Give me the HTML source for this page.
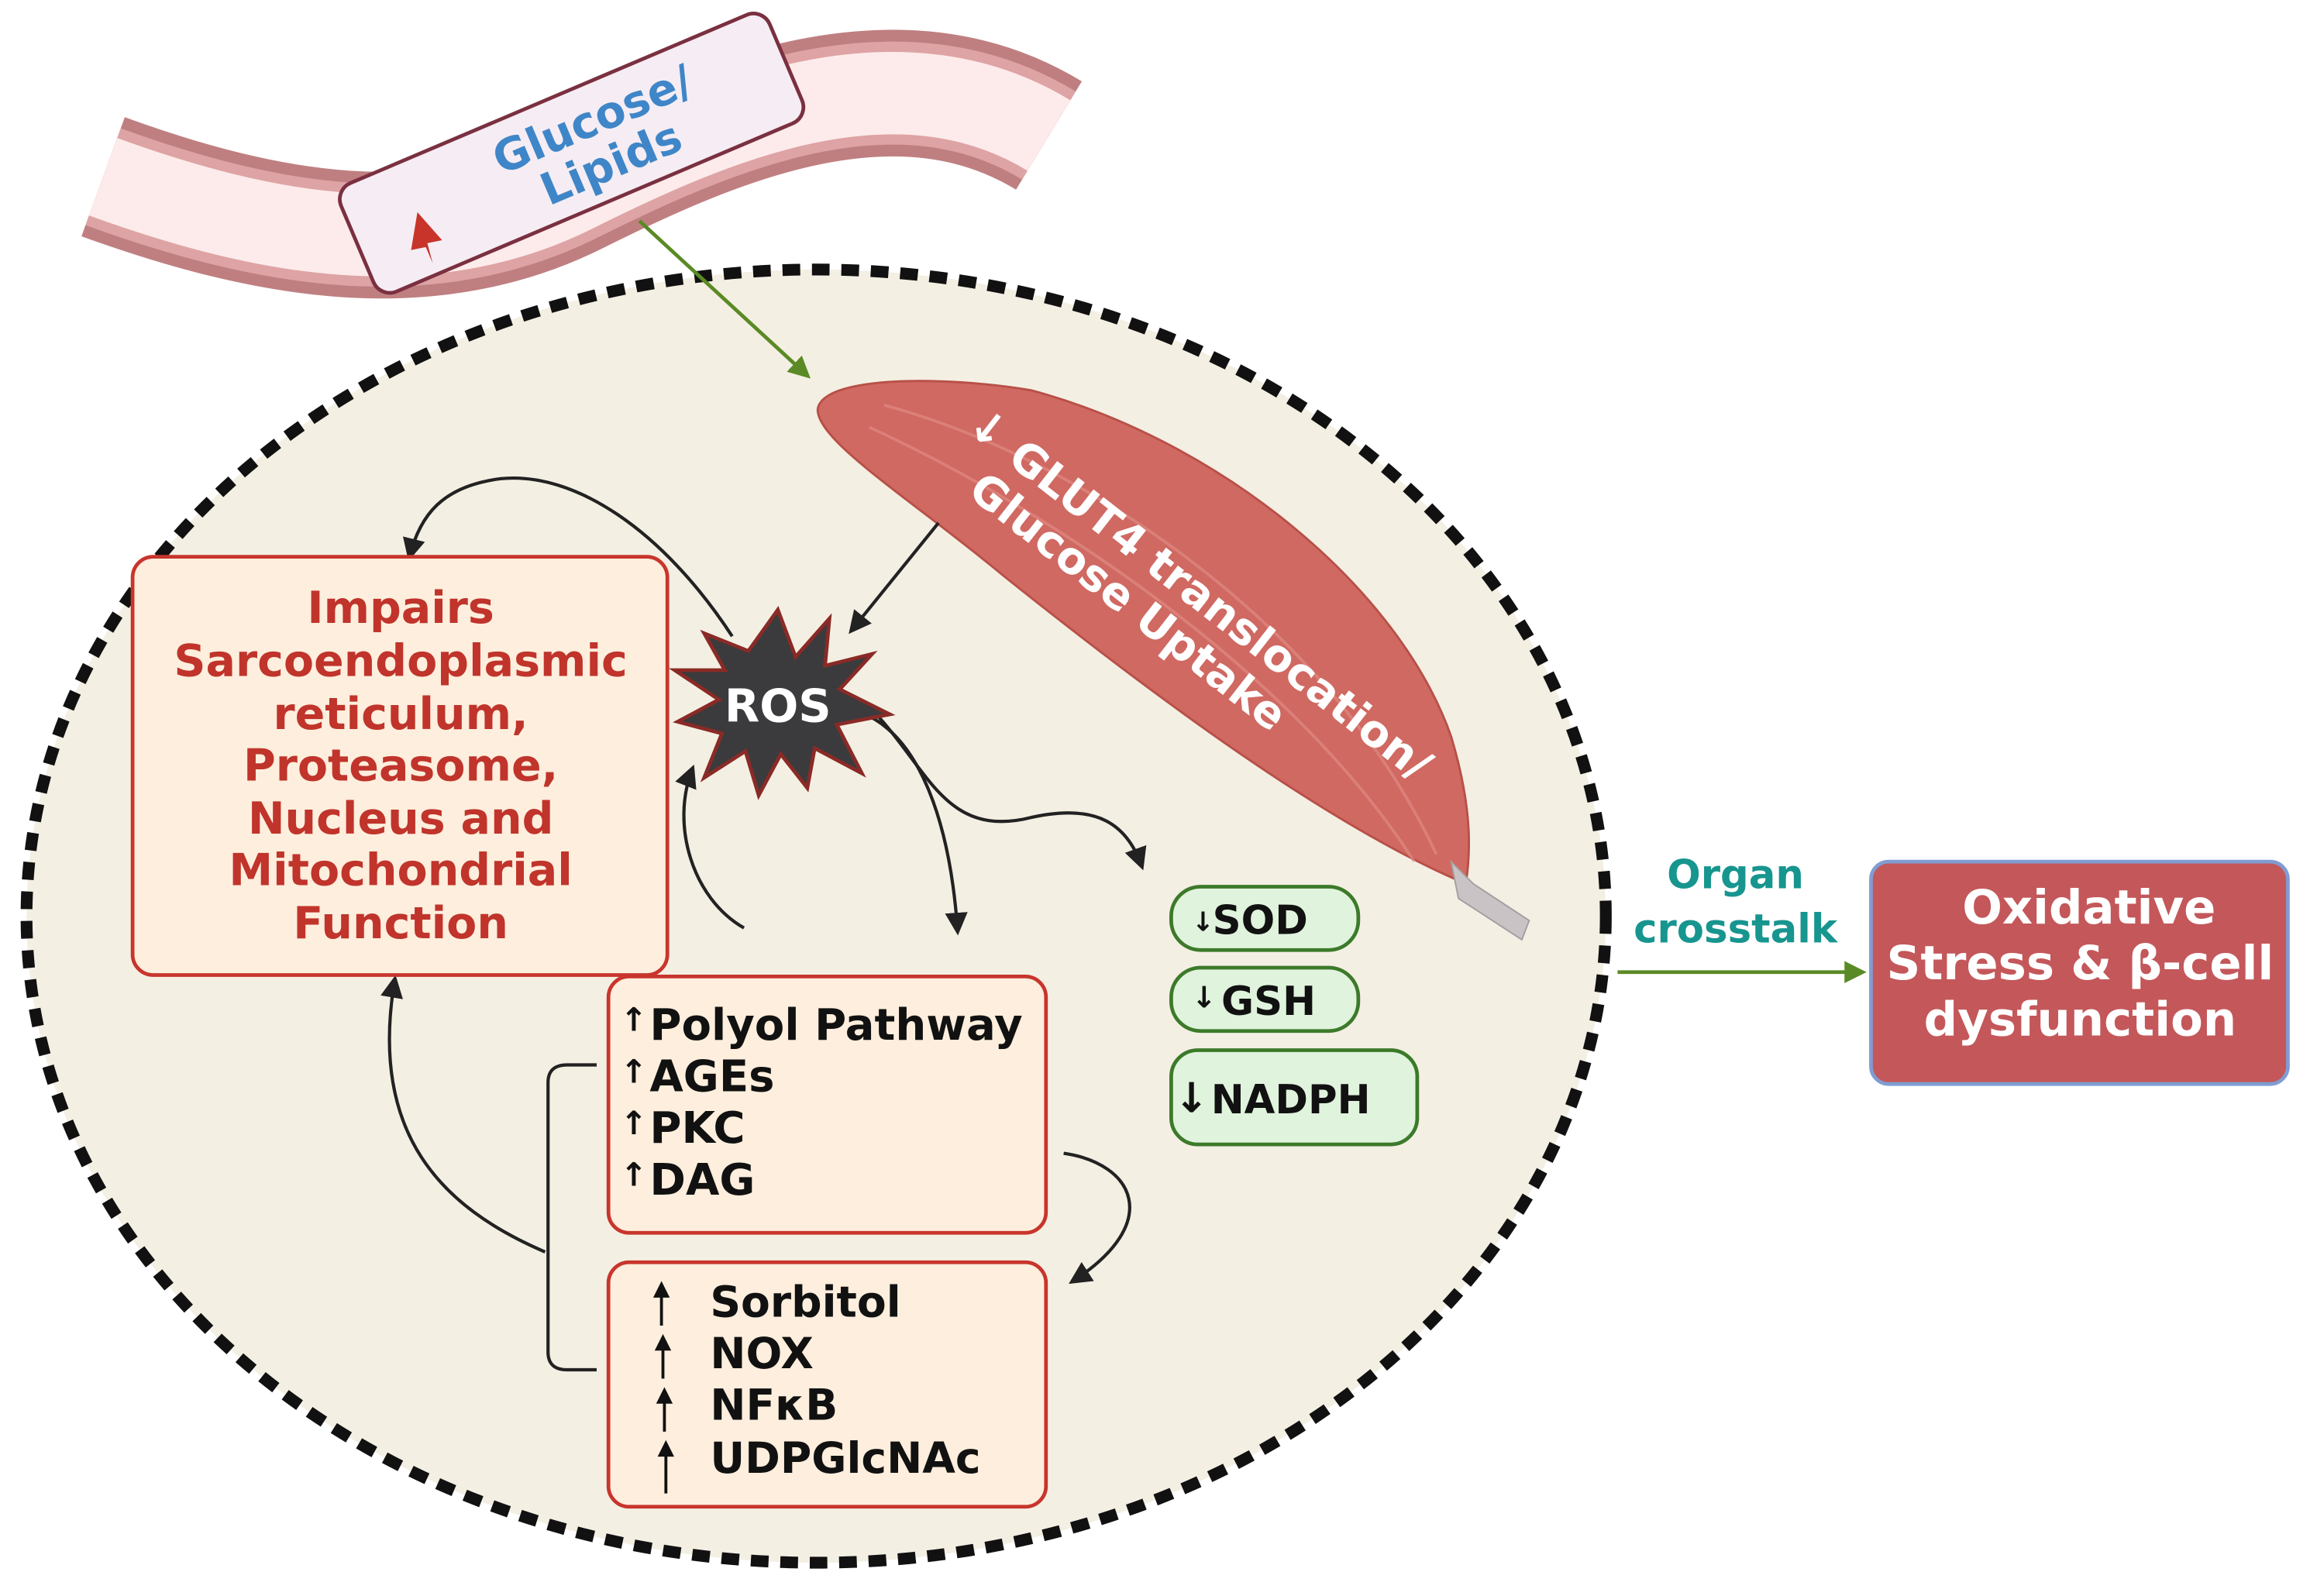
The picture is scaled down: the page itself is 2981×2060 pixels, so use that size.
<!DOCTYPE html>
<html><head><meta charset="utf-8"><style>
html,body{margin:0;padding:0;background:#fff;}
svg{display:block;}
text{font-family:"DejaVu Sans","Liberation Sans",sans-serif;font-weight:bold;}
</style></head><body>
<svg width="2981" height="2060" viewBox="0 0 1568 1083.6" preserveAspectRatio="none" xmlns="http://www.w3.org/2000/svg">
<defs>
<marker id="ab" viewBox="0 0 10 10" refX="8" refY="5" markerWidth="7" markerHeight="7" orient="auto"><path d="M0,0 L10,5 L0,10 z" fill="#222"/></marker>
<marker id="ag" viewBox="0 0 10 10" refX="8" refY="5" markerWidth="6" markerHeight="6" orient="auto"><path d="M0,0 L10,5 L0,10 z" fill="#5a8a25"/></marker>
</defs>
<!-- vessel -->
<g fill="none" stroke-linecap="butt">
<path d="M70,120 C180,160 290,180 390,130 S610,30 712,92" stroke="#bf7f80" stroke-width="86"/>
<path d="M70,120 C180,160 290,180 390,130 S610,30 712,92" stroke="#dea3a4" stroke-width="70"/>
<path d="M70,120 C180,160 290,180 390,130 S610,30 712,92" stroke="#fcebea" stroke-width="56"/>
</g>
<g transform="translate(388,104) rotate(-23)">
<rect x="-158" y="-40" width="316" height="80" rx="12" fill="#f5edf3" stroke="#7a3040" stroke-width="2.5"/>
<text x="22" y="-5" font-size="30" fill="#3f86c8" text-anchor="middle" font-weight="normal">Glucose/</text>
<text x="22" y="27" font-size="30" fill="#3f86c8" text-anchor="middle" font-weight="normal">Lipids</text>
<path d="M-116,20 l-10,-2 l14,-22 l8,24 l-10,-2 l-2,14 z" fill="#c8342a"/>
</g>
<!-- cell -->
<ellipse cx="554" cy="622" rx="536" ry="439" fill="#f4efe3" stroke="#111" stroke-width="8" stroke-dasharray="12 8"/>
<!-- green arrow -->
<line x1="434" y1="150" x2="548" y2="255" stroke="#5a8a25" stroke-width="2.5" marker-end="url(#ag)"/>
<!-- muscle -->
<path d="M555,278 C558,255 640,255 700,265 C830,300 950,400 985,500 C1000,550 998,580 995,600 C900,560 780,470 680,390 C620,340 555,300 555,278 Z" fill="#cf6962" stroke="#b85048" stroke-width="1.5"/>
<path d="M600,275 C730,310 900,420 975,580 M590,290 C720,350 880,460 960,585" stroke="#e39088" stroke-width="2" fill="none" opacity=".6"/>
<path d="M985,585 L1000,600 L1038,625 L1033,638 L990,610 Z" fill="#c9c3c6" stroke="#a59da0"/>
<g transform="translate(790,410) rotate(38)">
<text x="15" y="-10" font-size="30" fill="#fff" text-anchor="middle" font-weight="normal">↓ GLUT4 translocation/</text>
<text x="-20" y="24" font-size="30" fill="#fff" text-anchor="middle" font-weight="normal">Glucose Uptake</text>
</g>
<!-- connectors -->
<g fill="none" stroke="#222" stroke-width="2.2">
<path d="M637,355 L578,428" marker-end="url(#ab)"/>
<path d="M497,432 C450,360 390,320 340,325 C300,330 285,350 278,378" marker-end="url(#ab)"/>
<path d="M505,630 C470,610 455,560 470,522" marker-end="url(#ab)"/>
<path d="M585,484 C625,500 645,560 650,632" marker-end="url(#ab)"/>
<path d="M590,480 C630,520 640,570 700,555 C745,545 765,560 775,588" marker-end="url(#ab)"/>
<path d="M722,783 C770,790 790,830 728,870" marker-end="url(#ab)"/>
<path d="M370,850 C300,820 250,770 268,665" marker-end="url(#ab)"/>
<path d="M405,723 L385,723 Q372,723 372,735 L372,918 Q372,930 385,930 L405,930"/>
</g>
<!-- ROS star -->
<polygon points="528,414 540,446 563,420 560,452 592,444 570,468 604,485 568,492 585,525 553,508 548,535 530,512 515,540 506,510 478,528 490,498 460,490 488,475 458,455 492,455 478,430 508,442" fill="#3b3b3d" stroke="#8a2a26" stroke-width="2.5"/>
<text x="528" y="490" font-size="31" fill="#fff" text-anchor="middle" font-weight="normal">ROS</text>
<!-- Impairs box -->
<rect x="90" y="378" width="363" height="284" rx="14" fill="#fdeedd" stroke="#c8352c" stroke-width="2.5"/>
<g font-size="30" fill="#c0342b" text-anchor="middle">
<text x="272" y="423">Impairs</text>
<text x="272" y="459">Sarcoendoplasmic</text>
<text x="272" y="495">reticulum,</text>
<text x="272" y="530">Proteasome,</text>
<text x="272" y="566">Nucleus and</text>
<text x="272" y="601">Mitochondrial</text>
<text x="272" y="637">Function</text>
</g>
<!-- polyol box -->
<rect x="413" y="663" width="297" height="174" rx="14" fill="#fdeedd" stroke="#c8352c" stroke-width="2.5"/>
<g font-size="29.5" fill="#111">
<text x="441" y="706">Polyol Pathway</text>
<text x="441" y="741">AGEs</text>
<text x="441" y="776">PKC</text>
<text x="441" y="811">DAG</text>
<text x="421" y="700" font-size="22">↑</text>
<text x="421" y="735" font-size="22">↑</text>
<text x="421" y="770" font-size="22">↑</text>
<text x="421" y="805" font-size="22">↑</text>
</g>
<rect x="413" y="857" width="297" height="166" rx="14" fill="#fdeedd" stroke="#c8352c" stroke-width="2.5"/>
<g font-size="29" fill="#111">
<text x="482" y="894">Sorbitol</text>
<text x="482" y="929">NOX</text>
<text x="482" y="964">NFκB</text>
<text x="482" y="1000">UDPGlcNAc</text>
</g>
<g stroke="#111" stroke-width="2" fill="#111">
<line x1="449" y1="900" x2="449" y2="876"/><path d="M445,880 L449,872 L453,880 Z"/>
<line x1="450" y1="936" x2="450" y2="912"/><path d="M446,916 L450,908 L454,916 Z"/>
<line x1="451" y1="972" x2="451" y2="948"/><path d="M447,952 L451,944 L455,952 Z"/>
<line x1="452" y1="1014" x2="452" y2="984"/><path d="M448,988 L452,980 L456,988 Z"/>
</g>
<!-- green boxes -->
<g fill="#e0f3dd" stroke="#3c7a2a" stroke-width="2.5">
<rect x="795" y="602" width="127" height="43" rx="20"/>
<rect x="795" y="657" width="127" height="43" rx="20"/>
<rect x="795" y="713" width="167" height="64" rx="18"/>
</g>
<g font-size="27" fill="#111">
<text x="823" y="634">SOD</text>
<text x="829" y="689">GSH</text>
<text x="822" y="756">NADPH</text>
<text x="809" y="632" font-size="18">↓</text>
<text x="809" y="684" font-size="20">↓</text>
<text x="797" y="755" font-size="28" font-weight="normal">↓</text>
</g>
<!-- organ crosstalk -->
<text x="1178" y="603" font-size="27" fill="#17958f" text-anchor="middle">Organ</text>
<text x="1178" y="640" font-size="27" fill="#17958f" text-anchor="middle">crosstalk</text>
<line x1="1098" y1="660" x2="1264" y2="660" stroke="#5a8a25" stroke-width="2.5" marker-end="url(#ag)"/>
<rect x="1270" y="585" width="283" height="151" rx="12" fill="#c4575a" stroke="#7f9dd2" stroke-width="2.5"/>
<g font-size="32" fill="#fff" text-anchor="middle" font-weight="normal">
<text x="1418" y="627">Oxidative</text>
<text x="1412" y="665">Stress &amp; β-cell</text>
<text x="1412" y="703">dysfunction</text>
</g>
</svg>
</body></html>
